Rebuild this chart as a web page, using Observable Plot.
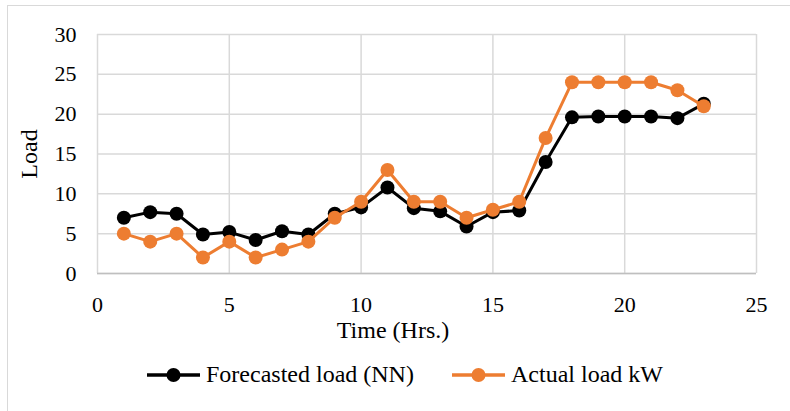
<!DOCTYPE html>
<html>
<head>
<meta charset="utf-8">
<script src="https://cdn.jsdelivr.net/npm/d3@7"></script>
<script src="https://cdn.jsdelivr.net/npm/@observablehq/plot@0.6"></script>
<style>
  html, body { margin: 0; padding: 0; background: #fff; overflow: hidden; }
  body { width: 790px; height: 411px; position: relative; font-family: "Liberation Serif", "Times New Roman", serif; }
  #frame { position: absolute; left: 7px; top: 5px; width: 820px; height: 440px; border: 1.5px solid #d9d9d9; box-sizing: border-box; pointer-events: none; }
  #chart { position: absolute; left: 0; top: 0; }
  #legend { position: absolute; left: 0; top: 355px; width: 790px; height: 56px; }
  .item { position: absolute; top: 6px; display: flex; align-items: center; font-family: "Liberation Serif", "Times New Roman", serif; font-size: 24px; color: #000; }
  .item span { font-family: "Liberation Serif", "Times New Roman", serif; }
  .item svg { margin-right: 6px; }
</style>
</head>
<body>
<div id="frame"></div>
<div id="chart"></div>
<div id="legend"></div>
<script>
const hours = [1,2,3,4,5,6,7,8,9,10,11,12,13,14,15,16,17,18,19,20,21,22,23];
const forecasted = [7.0,7.7,7.5,4.9,5.2,4.2,5.3,4.9,7.5,8.3,10.8,8.2,7.8,5.9,7.7,7.9,14.0,19.6,19.7,19.7,19.7,19.5,21.3];
const actual = [5,4,5,2,4,2,3,4,7,9,13,9,9,7,8,9,17,24,24,24,24,23,21];
const xTicks = [0,5,10,15,20,25];
const yTicks = [0,5,10,15,20,25,30];
const seriesNames = ["Forecasted load (NN)", "Actual load kW"];
const seriesColors = ["#000000", "#ED7D31"];

const fData = hours.map((h, i) => ({h, v: forecasted[i]}));
const aData = hours.map((h, i) => ({h, v: actual[i]}));

const plot = Plot.plot({
  width: 790,
  height: 355,
  marginLeft: 97,
  marginRight: 34,
  marginTop: 34,
  marginBottom: 82,
  style: {fontFamily: "'Liberation Serif', 'Times New Roman', serif", fontSize: "22px", color: "#000", background: "transparent"},
  x: {domain: [0, 25]},
  y: {domain: [0, 30]},
  marks: [
    Plot.gridX(xTicks, {stroke: "#d9d9d9", strokeOpacity: 1, strokeWidth: 1.5}),
    Plot.gridY(yTicks, {stroke: "#d9d9d9", strokeOpacity: 1, strokeWidth: 1.5}),
    Plot.ruleY([0], {stroke: "#bfbfbf", strokeWidth: 1.5}),
    Plot.axisX({ticks: xTicks, tickSize: 0, tickPadding: 23, label: null, fontSize: 22}),
    Plot.axisY({ticks: yTicks, tickSize: 0, tickPadding: 21, label: null, fontSize: 22}),
    Plot.text(["Time (Hrs.)"], {frameAnchor: "bottom", dx: -34, dy: 57, fontSize: 24, lineAnchor: "middle", textAnchor: "middle"}),
    Plot.text(["Load"], {frameAnchor: "left", dx: -68, rotate: -90, fontSize: 24, lineAnchor: "middle", textAnchor: "middle"}),
    Plot.line(fData, {x: "h", y: "v", stroke: seriesColors[0], strokeWidth: 3}),
    Plot.dot(fData, {x: "h", y: "v", r: 7, fill: seriesColors[0], stroke: "none"}),
    Plot.line(aData, {x: "h", y: "v", stroke: seriesColors[1], strokeWidth: 3}),
    Plot.dot(aData, {x: "h", y: "v", r: 7, fill: seriesColors[1], stroke: "none"})
  ]
});
document.getElementById("chart").appendChild(plot);

const legend = document.getElementById("legend");
const lefts = [147, 452];
seriesNames.forEach((name, i) => {
  const item = document.createElement("div");
  item.className = "item";
  item.style.left = lefts[i] + "px";
  item.innerHTML = `<svg width="53" height="20"><line x1="0" y1="10" x2="53" y2="10" stroke="${seriesColors[i]}" stroke-width="3.5"/><circle cx="26.5" cy="10" r="7" fill="${seriesColors[i]}"/></svg><span>${name}</span>`;
  legend.appendChild(item);
});
</script>
</body>
</html>
